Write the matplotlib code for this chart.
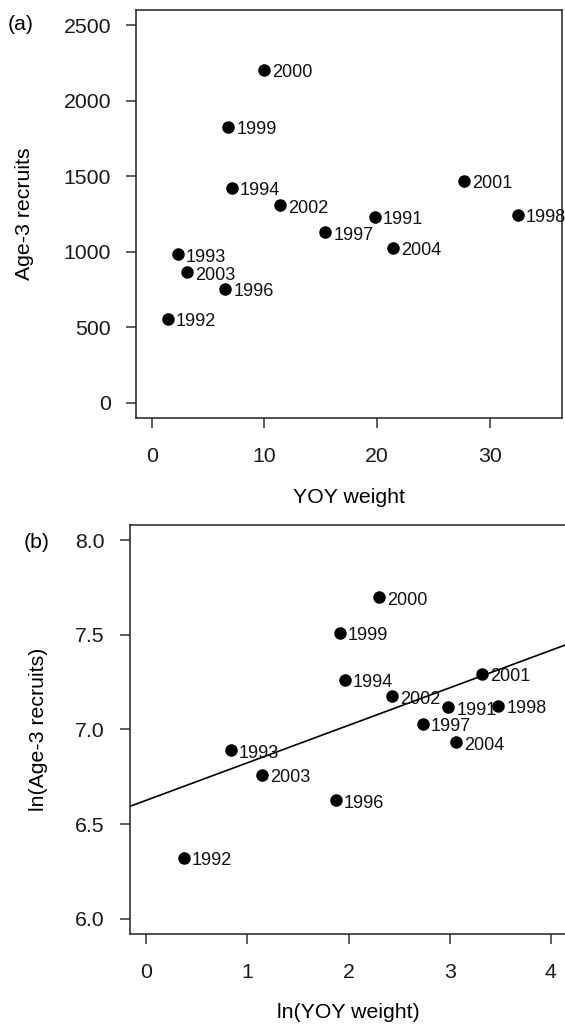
import numpy as np
import matplotlib
matplotlib.use("Agg")
import matplotlib.pyplot as plt

plt.rcParams['font.family'] = ['Liberation Sans', 'DejaVu Sans']

# year-class data
years = ['1991', '1992', '1993', '1994', '1996', '1997', '1998',
         '1999', '2000', '2001', '2002', '2003', '2004']
yoy_weight = [19.8, 1.45, 2.31, 7.12, 6.51, 15.4, 32.5,
              6.79, 9.97, 27.7, 11.38, 3.15, 21.4]
recruits = [1233, 557, 982, 1425, 755, 1130, 1244,
            1826, 2203, 1471, 1308, 863, 1026]

# fitted line in panel (b)
fit_intercept = 6.626
fit_slope = 0.198

W, H = 565, 1026
fs = 15.3
fig = plt.figure(figsize=(W / 100, H / 100), dpi=100)

def setup(ax, xlim, ylim, xticks, yticks, yfmt):
    ax.set_xlim(xlim[0] - 0.04 * (xlim[1] - xlim[0]), xlim[1] + 0.04 * (xlim[1] - xlim[0]))
    ax.set_ylim(ylim[0] - 0.04 * (ylim[1] - ylim[0]), ylim[1] + 0.04 * (ylim[1] - ylim[0]))
    ax.set_xticks(xticks)
    ax.set_yticks(yticks)
    ax.set_yticklabels([yfmt.format(v) for v in yticks])
    for s in ax.spines.values():
        s.set_linewidth(1.1)
        s.set_color('#222222')
    ax.tick_params(axis='x', length=7, width=1.1, pad=14, labelsize=fs, color='#333333',
                   labelcolor='#1a1a1a')
    ax.tick_params(axis='y', length=7.5, width=1.1, pad=10.5, labelsize=fs, color='#333333',
                   labelcolor='#1a1a1a')

def label_points(ax, xs, ys):
    ax.plot(xs, ys, 'o', color='black', ms=8)
    for x, y, t in zip(xs, ys, years):
        ax.annotate(t, (x, y), xytext=(8, -3), textcoords='offset pixels',
                    ha='left', va='center', fontsize=13, color='#111111')

# panel (a)
ax1 = fig.add_axes([136 / W, 1 - 418 / H, 426 / W, 408 / H])
setup(ax1, (0, 35), (0, 2500), [0, 10, 20, 30], [0, 500, 1000, 1500, 2000, 2500], '{:d}')
label_points(ax1, yoy_weight, recruits)
ax1.text(0.5, -0.194, 'YOY weight', transform=ax1.transAxes, ha='center', va='center', fontsize=fs)
ax1.text(-0.2606, 0.5, 'Age-3 recruits', transform=ax1.transAxes, ha='center', va='center',
         rotation=90, fontsize=fs)
fig.text(8 / W, 1 - 25 / H, '(a)', ha='left', va='center', fontsize=fs)

# panel (b)
ax2 = fig.add_axes([130 / W, 1 - 934 / H, 437 / W, 409 / H])
setup(ax2, (0, 4), (6, 8), [0, 1, 2, 3, 4], [6.0, 6.5, 7.0, 7.5, 8.0], '{:.1f}')
label_points(ax2, np.log(yoy_weight), np.log(recruits))
ax2.axline((0, fit_intercept), slope=fit_slope, color='black', lw=1.2)
ax2.text(0.5, -0.191, 'ln(YOY weight)', transform=ax2.transAxes, ha='center', va='center', fontsize=fs)
ax2.text(-0.2105, 0.5, 'ln(Age-3 recruits)', transform=ax2.transAxes, ha='center', va='center',
         rotation=90, fontsize=fs)
fig.text(24 / W, 1 - 543 / H, '(b)', ha='left', va='center', fontsize=fs)

fig.savefig('out.png', dpi=100)
